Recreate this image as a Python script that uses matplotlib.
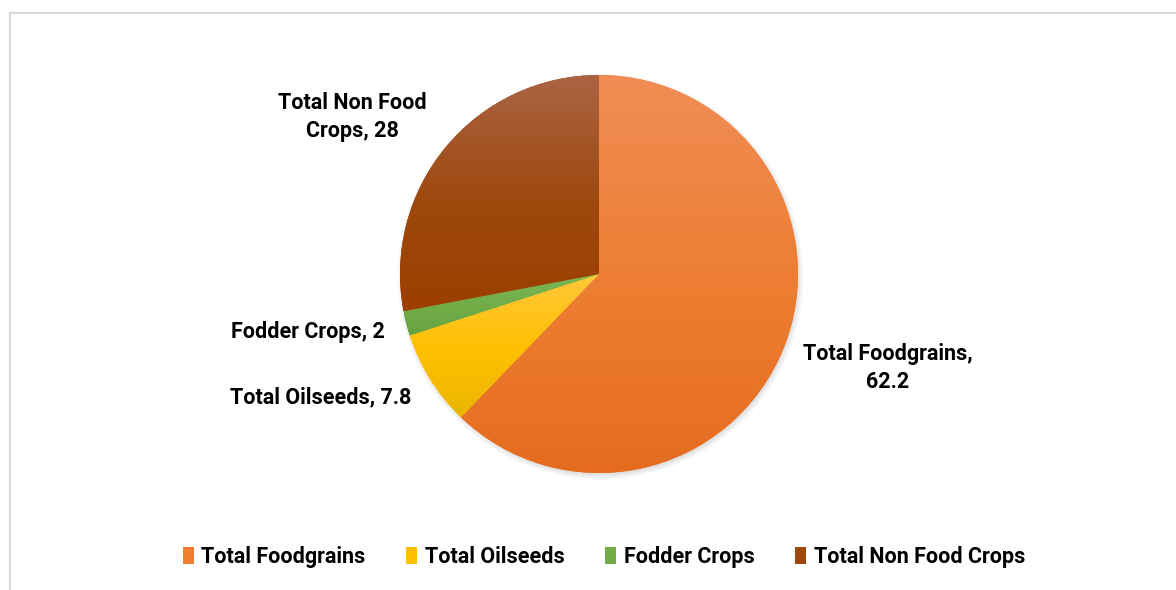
import matplotlib.pyplot as plt
import numpy as np
from matplotlib.colors import LinearSegmentedColormap
from matplotlib.patches import Patch, Circle
from matplotlib.lines import Line2D
import textwrap

# crop area shares (%)
categories = ['Total Foodgrains', 'Total Oilseeds', 'Fodder Crops', 'Total Non Food Crops']
shares = [62.2, 7.8, 2, 28]

# base colour plus light (top) and dark (bottom) ends of each slice gradient
base_cols = ['#ed7d31', '#ffc000', '#70ad47', '#9e480e']
top_cols = ['#f18d55', '#ffc73a', '#7ab655', '#ab6443']
bot_cols = ['#e56c1f', '#e9b600', '#67a23f', '#9c3f00']

W, H = 1176, 590
fig = plt.figure(figsize=(W / 100, H / 100), dpi=100)
ax = fig.add_axes([0, 0, 1, 1])

cx, cy, R = 599, H - 274, 199

# soft drop shadow under the pie
for k in range(8):
    ax.add_patch(Circle((cx + 1.5, cy - 2.5), R + 4 - k, color='#000000',
                        alpha=0.018, lw=0, zorder=0))

wedges, _ = ax.pie(shares, center=(cx, cy), radius=R, startangle=90,
                   counterclock=False, colors=base_cols,
                   wedgeprops=dict(lw=0))

# vertical gradient inside every slice
ramp = np.linspace(0, 1, 256).reshape(-1, 1)
for w, c0, c1, c2 in zip(wedges, top_cols, base_cols, bot_cols):
    ext = w.get_path().get_extents()
    cmap = LinearSegmentedColormap.from_list('g', [(0, c0), (0.55, c1), (1, c2)])
    im = ax.imshow(ramp, cmap=cmap, aspect='auto', interpolation='bilinear',
                   extent=[ext.x0, ext.x1, ext.y0, ext.y1], origin='upper',
                   zorder=2)
    im.set_clip_path(w)

ax.set_xlim(0, W)
ax.set_ylim(0, H)
ax.set_aspect('auto')
ax.axis('off')

# chart area outline (top and left edges)
ax.add_line(Line2D([10, W], [H - 13, H - 13], color='#d9d9d9', lw=1.5))
ax.add_line(Line2D([10, 10], [H - 13, 0], color='#d9d9d9', lw=1.5))

font = 'Roboto'
fs = 15.5

# data labels: x, y (pixels from top) and wrap width
label_pos = [(888, 368, 17), (321, 397, 40), (308, 332, 40), (352, 117, 14)]
for cat, val, (lx, ly, wrap) in zip(categories, shares, label_pos):
    txt = '\n'.join(textwrap.wrap(f'{cat}, {val:g}', wrap))
    ax.text(lx, H - ly, txt, ha='center', va='center', fontsize=fs,
            fontweight='bold', family=font, linespacing=1.4, color='#000000')

handles = [Patch(facecolor=c, edgecolor='none') for c in base_cols]
fig.legend(handles, categories, loc='center', bbox_to_anchor=(604 / W, 1 - 557 / H),
           ncol=4, frameon=False, handlelength=0.5, handleheight=0.8,
           handletextpad=0.35, columnspacing=1.9,
           prop=dict(family=font, weight='bold', size=fs))

fig.savefig('out.png', dpi=100)
